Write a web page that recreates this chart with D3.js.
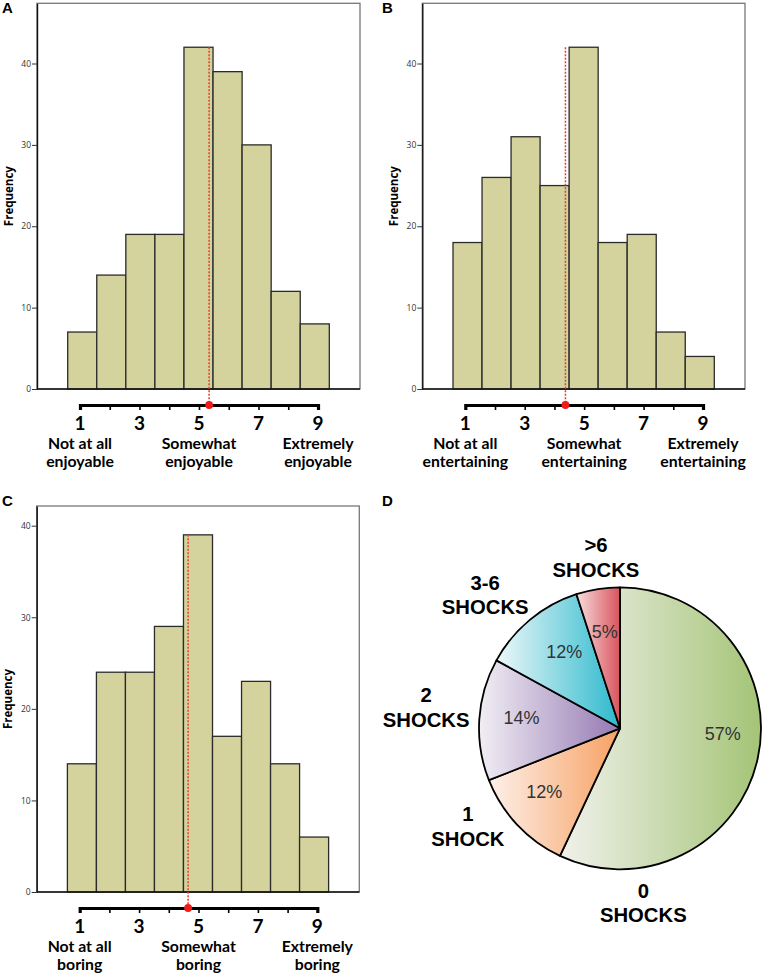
<!DOCTYPE html>
<html>
<head>
<meta charset="utf-8">
<script src="https://cdnjs.cloudflare.com/ajax/libs/d3/7.8.5/d3.min.js"></script>
<style>
body{margin:0;background:#fff;}
svg{display:block;}
</style>
</head>
<body>
<div id="chart"></div>
<script>
// data
const ratings = [1, 2, 3, 4, 5, 6, 7, 8, 9];
const ratingTicks = [1, 3, 5, 7, 9];
const freqTicks = [0, 10, 20, 30, 40];

const enjoyableFreq = [7, 14, 19, 19, 42, 39, 30, 12, 8];
const entertainingFreq = [18, 26, 31, 25, 42, 18, 19, 7, 4];
const boringFreq = [14, 24, 24, 29, 39, 17, 23, 14, 6];
const meanRatings = [5.34, 4.37, 4.65];

const panelWords = ['enjoyable', 'entertaining', 'boring'];
const anchorWords = ['Not at all', 'Somewhat', 'Extremely'];
const anchorRatings = [1, 5, 9];

const shockLabels = [['0', 'SHOCKS'], ['1', 'SHOCK'], ['2', 'SHOCKS'], ['3-6', 'SHOCKS'], ['>6', 'SHOCKS']];
const shockPercent = [57, 12, 14, 12, 5];

// layout
const W = 767, H = 977;
const boxes = [
    {letter: 'A', lx: 2,   ly: 13,  x0: 37,    x1: 360,   y0: 3.3, y1: 389, yMax: 47.4},
    {letter: 'B', lx: 382, ly: 13,  x0: 422.3, x1: 745,   y0: 3.3, y1: 389, yMax: 47.4},
    {letter: 'C', lx: 2,   ly: 506, x0: 36.7,  x1: 359.3, y0: 506, y1: 892, yMax: 42.15}
];
const pieBox = {letter: 'D', lx: 382, ly: 506, cx: 620, cy: 728.3, r: 141};
const sliceColours = [['#f1f1ec', '#a4c476'], ['#fdf0ea', '#f7a163'], ['#f1eef4', '#9579b3'],
                      ['#eef8f9', '#2cb9cd'], ['#f6dede', '#d9535c']];
// label placement, [degrees clockwise from 12 o'clock, radius]
const pctLabelAt = [[93, 103], [230, 99], [276, 99], [324, 95], [351, 98]];
const outerLabelAt = [[172.4, 176], [237.2, 181], [276.2, 195], [314.8, 190], [352, 173]];

const histFont = 'Lato, "Open Sans", sans-serif';
const pieFont = '"Liberation Sans", Arial, sans-serif';

var svg = d3.select('#chart').append('svg')
    .attr('width', W)
    .attr('height', H);

plotHistogram(boxes[0], enjoyableFreq, meanRatings[0], panelWords[0]);
plotHistogram(boxes[1], entertainingFreq, meanRatings[1], panelWords[1]);
plotHistogram(boxes[2], boringFreq, meanRatings[2], panelWords[2]);
plotPie(pieBox);

function plotHistogram(box, freq, mean, word){
    const g = svg.append('g');

    var x = d3.scaleBand().domain(ratings).range([box.x0 + 30.7, box.x1 - 30.7]);
    var y = d3.scaleLinear().domain([0, box.yMax]).range([box.y1, box.y0]);
    var r = d3.scaleLinear().domain([1, 9]).range([box.x0 + 43, box.x1 - 42]);

    g.append('text').text(box.letter)
        .attr('x', box.lx).attr('y', box.ly)
        .style('font-family', pieFont).style('font-weight', 'bold').style('font-size', '15px');

    // plot frame
    g.append('rect')
        .attr('x', box.x0).attr('y', box.y0)
        .attr('width', box.x1 - box.x0).attr('height', box.y1 - box.y0)
        .attr('fill', 'none').attr('stroke', '#777').attr('stroke-width', 1.3);

    g.selectAll('rect.bar').data(freq)
        .enter()
        .append('rect')
        .attr('class', 'bar')
        .attr('x', function(d, i){ return x(ratings[i]); })
        .attr('y', function(d){ return y(d); })
        .attr('width', x.bandwidth())
        .attr('height', function(d){ return y(0) - y(d); })
        .attr('fill', '#d5d39d')
        .attr('stroke', '#2b2b2b')
        .attr('stroke-width', 1.3);

    var yAxis = g.append('g')
        .attr('transform', 'translate(' + box.x0 + ',0)')
        .call(d3.axisLeft(y).tickValues(freqTicks).tickSize(5).tickSizeOuter(0).tickPadding(1));
    yAxis.select('.domain').attr('stroke', '#111').attr('stroke-width', 1.4);
    yAxis.selectAll('.tick line').attr('stroke', '#333');
    yAxis.selectAll('.tick text').style('font-family', '"Open Sans", sans-serif').style('font-size', '8.5px').attr('fill', '#333');

    g.append('line')
        .attr('x1', box.x0).attr('x2', box.x1)
        .attr('y1', y(0)).attr('y2', y(0))
        .attr('stroke', '#111').attr('stroke-width', 1.4);

    g.append('text').text('Frequency')
        .attr('transform', 'translate(' + (box.x0 - 29) + ',' + ((box.y0 + box.y1) / 2) + ') rotate(-90)')
        .attr('text-anchor', 'middle')
        .attr('dominant-baseline', 'central')
        .style('font-family', '"Open Sans", sans-serif').style('font-weight', 'bold').style('font-size', '11.5px');

    // rating scale below the histogram
    const sy = box.y1 + 16;
    var rAxis = g.append('g')
        .attr('transform', 'translate(0,' + sy + ')')
        .call(d3.axisBottom(r).tickValues(ratings).tickSize(5).tickSizeOuter(5).tickFormat(''));
    rAxis.select('.domain').attr('stroke', '#000').attr('stroke-width', 3.2);
    rAxis.selectAll('.tick line').attr('stroke', '#000').attr('stroke-width', 1.6);

    g.selectAll('text.num').data(ratingTicks)
        .enter()
        .append('text')
        .attr('class', 'num')
        .attr('x', function(d){ return r(d); })
        .attr('y', sy + 24.5)
        .attr('text-anchor', 'middle')
        .text(function(d){ return d; })
        .style('font-family', histFont).style('font-weight', 'bold').style('font-size', '19px');

    anchorRatings.forEach(function(v, i){
        var t = g.append('text')
            .attr('text-anchor', 'middle')
            .style('font-family', histFont).style('font-weight', 'bold').style('font-size', '15.8px');
        t.append('tspan').attr('x', r(v)).attr('y', sy + 43.8).text(anchorWords[i]);
        t.append('tspan').attr('x', r(v)).attr('y', sy + 62.4).text(word);
    });

    // mean marker
    g.append('line')
        .attr('x1', r(mean)).attr('x2', r(mean))
        .attr('y1', y(d3.max(freq))).attr('y2', sy)
        .attr('stroke', '#ea3b26').attr('stroke-width', 1.5)
        .attr('stroke-dasharray', '2,1.5');
    g.append('circle')
        .attr('cx', r(mean)).attr('cy', sy).attr('r', 3.9)
        .attr('fill', '#f01c1c');
}

function plotPie(box){
    const g = svg.append('g');

    g.append('text').text(box.letter)
        .attr('x', box.lx).attr('y', box.ly)
        .style('font-family', pieFont).style('font-weight', 'bold').style('font-size', '15px');

    var defs = svg.append('defs');
    sliceColours.forEach(function(c, i){
        var lg = defs.append('linearGradient')
            .attr('id', 'slice' + i)
            .attr('x1', 0).attr('y1', 0).attr('x2', 1).attr('y2', 0);
        lg.append('stop').attr('offset', '0%').attr('stop-color', c[0]);
        lg.append('stop').attr('offset', '100%').attr('stop-color', c[1]);
    });

    var pie = d3.pie().sort(null).value(function(d){ return d; });
    var arc = d3.arc().innerRadius(0).outerRadius(box.r);

    var grp = g.append('g').attr('transform', 'translate(' + box.cx + ',' + box.cy + ')');
    grp.selectAll('path').data(pie(shockPercent))
        .enter()
        .append('path')
        .attr('fill', function(d, i){ return 'url(#slice' + i + ')'; })
        .attr('stroke', '#000')
        .attr('stroke-width', 1.8)
        .attr('stroke-linejoin', 'round')
        .attr('d', arc);

    function polar(p){
        const a = p[0] * Math.PI / 180;
        return [p[1] * Math.sin(a), -p[1] * Math.cos(a)];
    }

    grp.selectAll('text.pct').data(shockPercent)
        .enter()
        .append('text')
        .attr('class', 'pct')
        .attr('x', function(d, i){ return polar(pctLabelAt[i])[0]; })
        .attr('y', function(d, i){ return polar(pctLabelAt[i])[1]; })
        .attr('dy', '0.36em')
        .attr('text-anchor', 'middle')
        .attr('fill', '#333')
        .text(function(d){ return d + '%'; })
        .style('font-family', pieFont).style('font-size', '18px');

    shockLabels.forEach(function(lines, i){
        const p = polar(outerLabelAt[i]);
        var t = grp.append('text')
            .attr('text-anchor', 'middle')
            .style('font-family', pieFont).style('font-weight', 'bold').style('font-size', '20.3px');
        t.append('tspan').attr('x', p[0]).attr('y', p[1] - 12.3 + 7.4).text(lines[0]);
        t.append('tspan').attr('x', p[0]).attr('y', p[1] + 12.3 + 7.4).text(lines[1]);
    });
}
</script>
</body>
</html>
